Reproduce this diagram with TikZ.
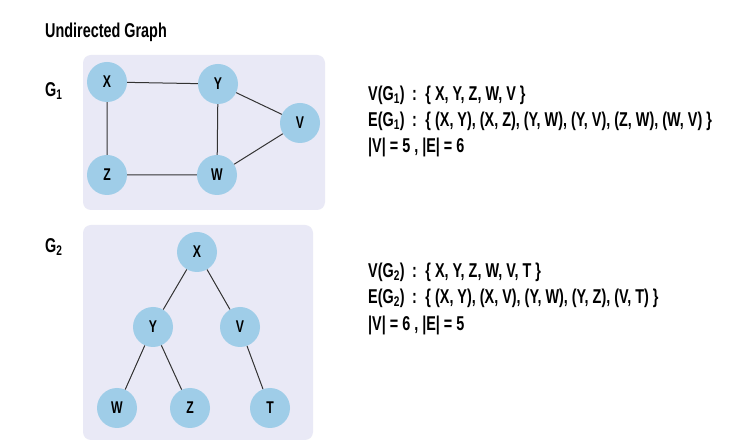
\documentclass[tikz,border=0pt]{standalone}
\usepackage{fontspec}
\setmainfont{Liberation Sans}[FakeStretch=0.72]
\begin{document}
\begin{tikzpicture}[x=1pt,y=-1pt,
  nd/.style={circle,fill=nodeblue,minimum size=40pt,inner sep=0pt,font=\fontsize{17}{19}\selectfont\bfseries},
  ed/.style={line width=1pt,black!80},
  bx/.style={fill=boxfill,rounded corners=8pt},
  tx/.style={anchor=west,font=\fontsize{20}{22}\selectfont\bfseries,inner sep=0pt}]
\definecolor{nodeblue}{HTML}{9FCDE8}
\definecolor{boxfill}{HTML}{E9E9F6}
\useasboundingbox (0,0) rectangle (740,446);
\fill[white] (0,0) rectangle (740,446);
\node[tx,font=\fontsize{20}{22}\selectfont\bfseries] (title) at (45,32) {Undirected Graph};
\node[tx] (g1) at (45,91) {G\textsubscript{1}};
\node[tx] (g2) at (45,247) {G\textsubscript{2}};
\fill[bx] (83,55) rectangle (325,210);
\fill[bx] (83,225) rectangle (313,440);
\node[nd] (x1) at (107,82) {X};
\node[nd] (y1) at (218,84) {Y};
\node[nd] (v1) at (300,123) {V};
\node[nd] (z1) at (107,175) {Z};
\node[nd] (w1) at (217,175) {W};
\draw[ed] (x1)--(y1) (x1)--(z1) (y1)--(w1) (y1)--(v1) (z1)--(w1) (w1)--(v1);
\node[nd] (x2) at (197,252) {X};
\node[nd] (y2) at (153,327) {Y};
\node[nd] (v2) at (240,327) {V};
\node[nd] (w2) at (117,408) {W};
\node[nd] (z2) at (190,408) {Z};
\node[nd] (t2) at (270,408) {T};
\draw[ed] (x2)--(y2) (x2)--(v2) (y2)--(w2) (y2)--(z2) (v2)--(t2);
\node[tx] (a1) at (368,95) {V(G\textsubscript{1}) \,:\, \{ X, Y, Z, W, V \}};
\node[tx] (b1) at (368,121) {E(G\textsubscript{1}) \,:\, \{ (X, Y), (X, Z), (Y, W), (Y, V), (Z, W), (W, V) \}};
\node[tx] (c1) at (368,147) {|V| = 5 , |E| = 6};
\node[tx] (a2) at (368,272) {V(G\textsubscript{2}) \,:\, \{ X, Y, Z, W, V, T \}};
\node[tx] (b2) at (368,298) {E(G\textsubscript{2}) \,:\, \{ (X, Y), (X, V), (Y, W), (Y, Z), (V, T) \}};
\node[tx] (c2) at (368,325) {|V| = 6 , |E| = 5};
\end{tikzpicture}
\end{document}
